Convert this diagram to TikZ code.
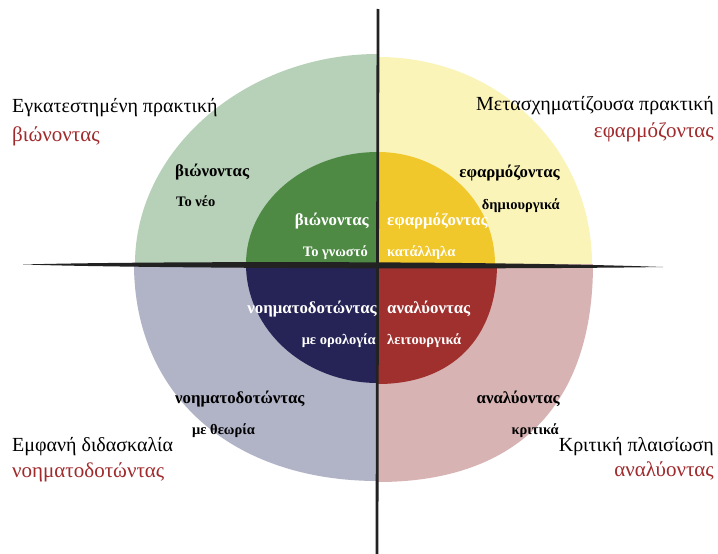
\documentclass[tikz,border=0pt]{standalone}
\usepackage{fontspec}
\setmainfont{Liberation Serif}
\definecolor{outgreen}{HTML}{B7D0B8}
\definecolor{outyellow}{HTML}{FBF4B8}
\definecolor{outgrey}{HTML}{B1B3C6}
\definecolor{outpink}{HTML}{D8B3B3}
\definecolor{ingreen}{HTML}{4F8A45}
\definecolor{inyellow}{HTML}{F1C82B}
\definecolor{innavy}{HTML}{262456}
\definecolor{inred}{HTML}{A0302E}
\definecolor{titlered}{HTML}{A02A2C}
\definecolor{axiscol}{HTML}{222222}
\begin{document}
\begin{tikzpicture}[x=1pt,y=-1pt,
  title/.style={font=\fontsize{20}{22}\selectfont, inner sep=0pt, text=black},
  subtitle/.style={title, font=\fontsize{21}{23}\selectfont, text=titlered},
  lbl/.style={font=\fontsize{16.8}{18}\selectfont\bfseries, inner sep=0pt},
  small/.style={font=\fontsize{14.5}{16}\selectfont\bfseries, inner sep=0pt},
  wlbl/.style={lbl, text=white},
  wsmall/.style={small, text=white}]
\useasboundingbox[fill=white] (0,0) rectangle (718,554);
\coordinate (c) at (378,264);
% outer quadrants
\fill[outgreen] (c) -- (378,54) .. controls (245,54) and (135,150) .. (135,264) -- cycle;
\fill[outyellow] (c) -- (378,57) .. controls (500,57) and (592,150) .. (592,264) -- cycle;
\fill[outgrey] (c) -- (134,264) .. controls (134,395) and (232,481) .. (378,481) -- cycle;
\fill[outpink] (c) -- (593,264) .. controls (593,412) and (510,482) .. (378,482) -- cycle;
% inner quadrants
\fill[ingreen] (c) -- (378,152) .. controls (305,152) and (246,202) .. (246,264) -- cycle;
\fill[inyellow] (c) -- (378,152) .. controls (443,152) and (495,202) .. (495,264) -- cycle;
\fill[innavy] (c) -- (246,264) .. controls (246,330) and (305,383) .. (378,383) -- cycle;
\fill[inred] (c) -- (497,264) .. controls (497,338) and (452,384) .. (378,384) -- cycle;
% axes
\coordinate (hl) at (23,264.5);
\coordinate (hr) at (663,267);
\coordinate (vt) at (378,9);
\coordinate (vb) at (377,554);
\fill[axiscol] (hl) .. controls (150,261) and (500,261) .. (hr) .. controls (500,269.5) and (150,268.5) .. (hl) -- cycle;
\draw[axiscol, line width=2.8pt] (vt) -- (vb);
% corner titles
\node[title, anchor=base west] (t1) at (12,112) {Εγκατεστημένη πρακτική};
\node[subtitle, anchor=base west] (s1) at (12,141) {βιώνοντας};
\node[title, anchor=base east] (t2) at (714,110) {Μετασχηματίζουσα πρακτική};
\node[subtitle, anchor=base east] (s2) at (714,137) {εφαρμόζοντας};
\node[title, anchor=base west] (t3) at (12,451) {Εμφανή διδασκαλία};
\node[subtitle, anchor=base west] (s3) at (12,477) {νοηματοδοτώντας};
\node[title, anchor=base east] (t4) at (714,451) {Κριτική πλαισίωση};
\node[subtitle, anchor=base east] (s4) at (714,476) {αναλύοντας};
% outer ring labels
\node[lbl, anchor=base west] (o1) at (175,176) {βιώνοντας};
\node[small, anchor=base west] (o1s) at (176,206) {Το νέο};
\node[lbl, anchor=base east] (o2) at (560,177) {εφαρμόζοντας};
\node[small, anchor=base east] (o2s) at (560,209) {δημιουργικά};
\node[lbl, anchor=base west] (o3) at (175,403) {νοηματοδοτώντας};
\node[small, anchor=base west] (o3s) at (192,434) {με θεωρία};
\node[lbl, anchor=base east] (o4) at (560,403) {αναλύοντας};
\node[small, anchor=base east] (o4s) at (559,434) {κριτικά};
% inner labels
\node[wlbl, anchor=base east] (i1) at (369,225) {βιώνοντας};
\node[wsmall, anchor=base east] (i1s) at (368,256) {Το γνωστό};
\node[wlbl, anchor=base west] (i2) at (387,225) {εφαρμόζοντας};
\node[wsmall, anchor=base west] (i2s) at (387,256) {κατάλληλα};
\node[wlbl, anchor=base east] (i3) at (377,313) {νοηματοδοτώντας};
\node[wsmall, anchor=base east] (i3s) at (376,344) {με ορολογία};
\node[wlbl, anchor=base west] (i4) at (387,313) {αναλύοντας};
\node[wsmall, anchor=base west] (i4s) at (387,344) {λειτουργικά};
\end{tikzpicture}
\end{document}
